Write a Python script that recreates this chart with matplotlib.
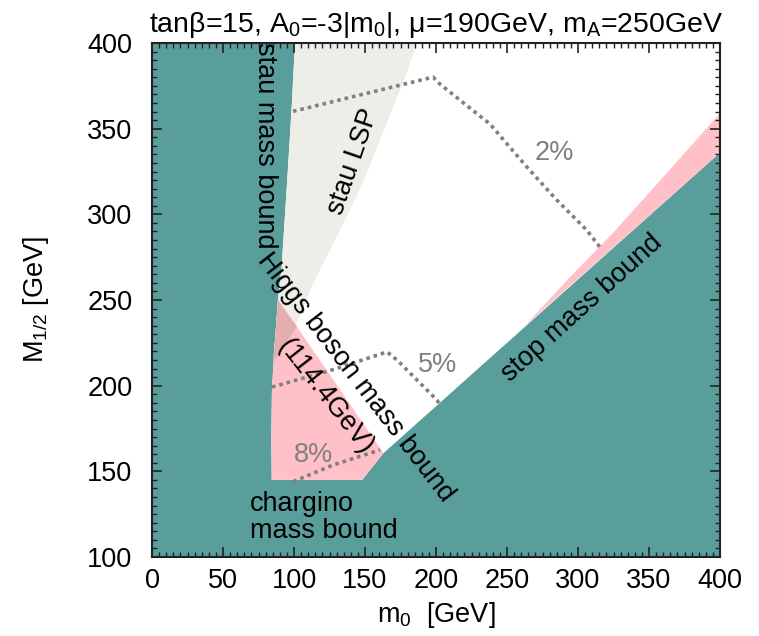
import matplotlib
matplotlib.use("Agg")
import matplotlib.pyplot as plt
from matplotlib.ticker import MultipleLocator

plt.rcParams['font.family'] = ['Liberation Sans', 'DejaVu Sans']
plt.rcParams['mathtext.fontset'] = 'custom'
plt.rcParams['mathtext.rm'] = 'Liberation Sans'
plt.rcParams['mathtext.it'] = 'Liberation Sans:italic'

teal = "#5a9e9c"
pink = "#ffc0c8"
lsp_grey = "#eeeee8"
overlap = "#e3aeae"
dot_grey = "#808080"

# stau mass bound (teal | allowed), top to bottom
stau_m0 = [100.7, 98.4, 94.8, 91.3, 88.7, 86.5, 84.5, 84.0, 84.3]
stau_m12 = [400, 362.8, 314.2, 269.4, 250, 225, 199, 170, 145]

# chargino bound
chargino_m12 = 145

# stop mass bound line
stop_m0 = [148, 163, 400]
stop_m12 = [145, 160.6, 336]

# Higgs bound line
higgs_m0 = [88.7, 102, 163]
higgs_m12 = [250, 234.5, 160.6]

# pink strip above stop bound (upper edge)
strip_m0 = [262, 294.4, 324.6, 364.8, 400]
strip_m12 = [234.5, 263.4, 289.1, 326.2, 359]

# stau LSP right edge, top to bottom
lsp_m0 = [186.5, 179.3, 169.9, 160.6, 151.2, 140.6, 128.9, 117.1, 112.5, 102, 85.2]
lsp_m12 = [400, 382.3, 362.8, 343.4, 324, 304.5, 285, 265.6, 257.8, 236.6, 213.2]

# contour lines
c2_m0 = [99.3, 197.9, 202.8, 238, 264, 285, 306, 317]
c2_m12 = [360.1, 380.1, 376, 352.7, 327.6, 308.4, 290.9, 279.2]
c5_m0 = [84.5, 128.9, 165.5, 172.5, 200.7, 202.8]
c5_m12 = [199.2, 209.7, 219.7, 215, 191.6, 188.7]
c8_m0 = [99.5, 127.5, 160.6]
c8_m12 = [144, 153.7, 162.5]

fig = plt.figure(figsize=(7.59, 6.36), dpi=100)
ax = fig.add_axes([152 / 759, 1 - 557 / 636, 568 / 759, 514 / 636])
ax.set_facecolor(teal)

# allowed (white) region
wx = [stau_m0[0], 400, 400] + stop_m0[::-1] + [stau_m0[-1]] + stau_m0[::-1]
wy = [400, 400, stop_m12[-1]] + stop_m12[::-1] + [chargino_m12] + stau_m12[::-1]
ax.fill(wx, wy, color="white", lw=0)

# Higgs excluded (pink) region
i250 = stau_m12.index(250)
px = higgs_m0 + [stop_m0[0], stau_m0[-1]] + stau_m0[-1:i250 - 1:-1]
py = higgs_m12 + [chargino_m12, chargino_m12] + stau_m12[-1:i250 - 1:-1]
ax.fill(px, py, color=pink, lw=0)

# pink strip along the stop bound
sx = [strip_m0[0], stop_m0[-1]] + strip_m0[::-1]
sy = [strip_m12[0], stop_m12[-1]] + strip_m12[::-1]
ax.fill(sx, sy, color=pink, lw=0)

# stau LSP region
lx = stau_m0[:i250 + 2] + lsp_m0[::-1]
ly = stau_m12[:i250 + 2] + lsp_m12[::-1]
ax.fill(lx, ly, color=lsp_grey, lw=0)

# overlap of stau LSP and Higgs excluded region
ox = [higgs_m0[0], higgs_m0[1], lsp_m0[-1], stau_m0[i250 + 1]]
oy = [higgs_m12[0], higgs_m12[1], lsp_m12[-1], stau_m12[i250 + 1]]
ax.fill(ox, oy, color=overlap, lw=0)

for cx, cy in [(c2_m0, c2_m12), (c5_m0, c5_m12), (c8_m0, c8_m12)]:
    ax.plot(cx, cy, color=dot_grey, lw=2.6, linestyle=(0, (1, 1.1)))

fs = 19.5
ax.text(283, 336, "2%", color=dot_grey, fontsize=fs, ha="center", va="center")
ax.text(201.4, 212, "5%", color=dot_grey, fontsize=fs, ha="center", va="center")
ax.text(113.4, 159.5, "8%", color=dot_grey, fontsize=fs, ha="center", va="center")
ax.text(79.6, 340, "stau mass bound", fontsize=fs, rotation=-90, ha="center", va="center")
ax.text(141.5, 331, "stau LSP", fontsize=fs, rotation=71, ha="center", va="center")
ax.text(143, 204.5, "Higgs boson mass bound", fontsize=fs, rotation=-52.5, ha="center", va="center")
ax.text(121.8, 193.4, "(114.4GeV)", fontsize=fs, rotation=-52, ha="center", va="center")
ax.text(302.8, 245.3, "stop mass bound", fontsize=fs, rotation=42, ha="center", va="center")
ax.text(69, 123.3, "chargino\nmass bound", fontsize=fs, ha="left", va="center", linespacing=1.05)

ax.set_xlim(0, 400)
ax.set_ylim(100, 400)
ax.xaxis.set_major_locator(MultipleLocator(50))
ax.yaxis.set_major_locator(MultipleLocator(50))
ax.xaxis.set_minor_locator(MultipleLocator(5))
ax.yaxis.set_minor_locator(MultipleLocator(5))
ax.tick_params(which="both", direction="in", top=True, right=True, labelsize=fs, color="#222222")
ax.tick_params(which="major", length=7, width=1.2)
ax.tick_params(which="minor", length=3.5, width=1)
ax.tick_params(axis="x", which="major", pad=8)
ax.tick_params(axis="y", which="major", pad=14)
for s in ax.spines.values():
    s.set_linewidth(1.5)
    s.set_color("#222222")

ax.set_xlabel("m$_0$  [GeV]", fontsize=fs, labelpad=4)
ax.set_ylabel("M$_{1/2}$ [GeV]", fontsize=fs, labelpad=26)
ax.set_title(r"tan$\mathrm{\beta}$=15, A$_0$=-3|m$_0$|, $\mathrm{\mu}$=190GeV, m$_\mathrm{A}$=250GeV",
             fontsize=20.5, pad=8)

fig.savefig("out.png", dpi=100)
